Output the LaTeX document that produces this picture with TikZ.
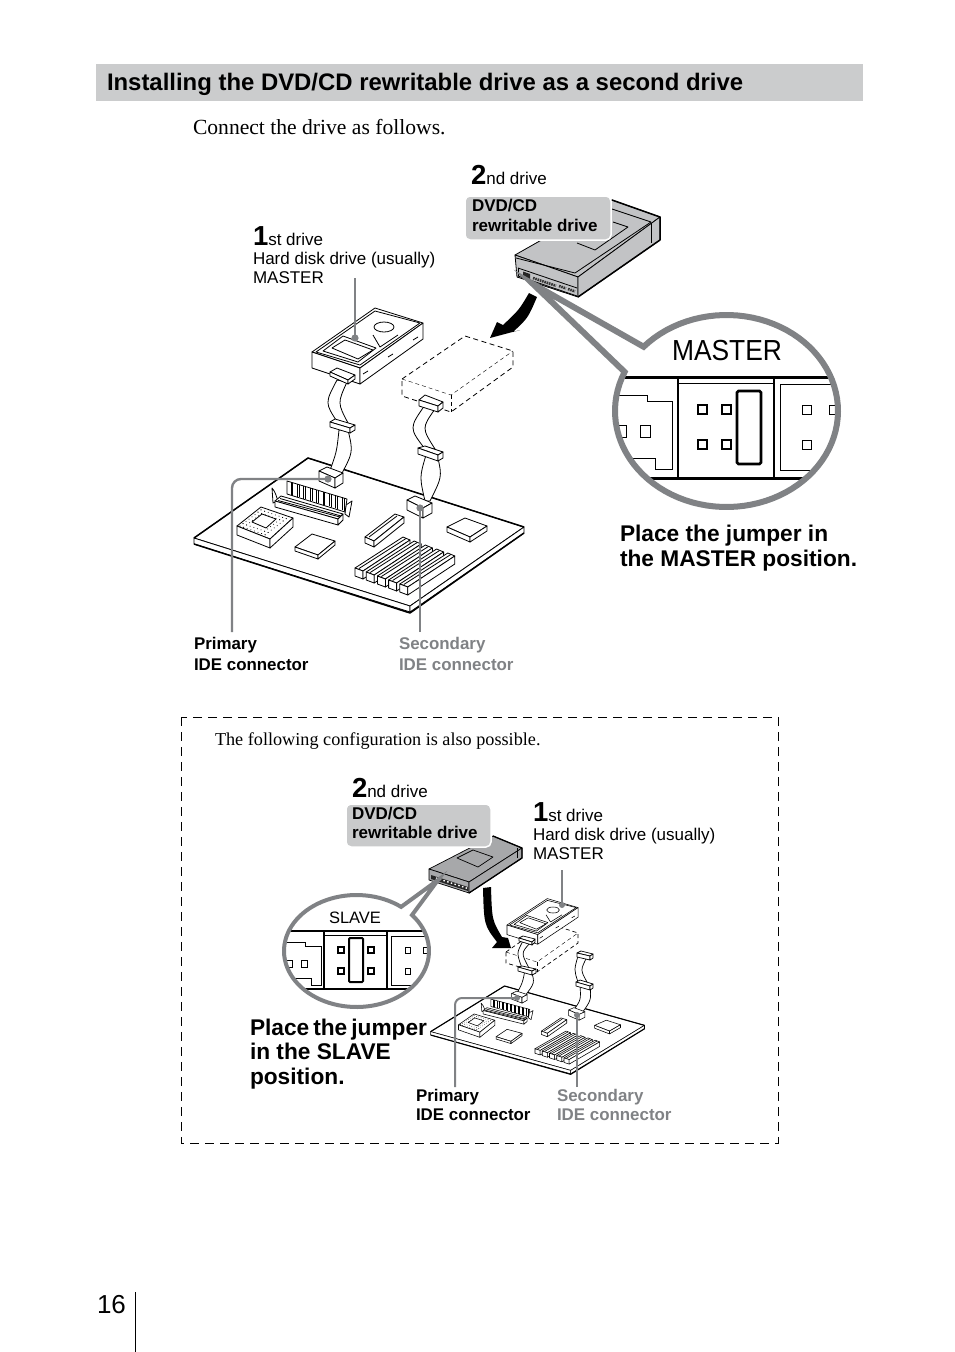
\documentclass[tikz,border=0pt]{standalone}
\usepackage{fontspec}
\setmainfont{Liberation Sans}
\newfontfamily\serifface{Liberation Serif}
\definecolor{lead}{HTML}{808285}
\definecolor{band}{HTML}{CBCCCD}
\definecolor{labelgray}{HTML}{C9CACB}
\definecolor{drivetop}{HTML}{C2C3C5}
\definecolor{drivelow}{HTML}{A7A8AA}
\newcommand\fs[1]{\fontsize{#1}{#1}\selectfont}
\newcommand\twol[3]{\vtop{\baselineskip=#1pt\lineskiplimit=-20pt\hbox{#2}\hbox{#3}}}
\newcommand\threel[4]{\vtop{\baselineskip=#1pt\lineskiplimit=-20pt\hbox{#2}\hbox{#3}\hbox{#4}}}
\newcommand\bignum[1]{{\fs{27.5}\bfseries #1}}
\def\lw{0.8pt}
\def\lwb{1.5pt}
\tikzset{
  x=1pt,y=-1pt,
  ln/.style={line width=\lw,line join=round,draw=black},
  hv/.style={line width=\lwb,line join=round,draw=black},
  txt/.style={anchor=base west,inner sep=0pt,outer sep=0pt},
  leader/.style={draw=lead,line width=2.4pt,rounded corners=9pt},
  dotend/.style={fill=lead,draw=none},
  dashline/.style={line width=\lw,draw=black,dash pattern=on 5pt off 3.5pt},
  dashthin/.style={line width=0.4pt,draw=black,dash pattern=on 4pt off 3pt},
  lens/.style={draw=lead,line join=miter,fill=none},
  labelbg/.style={fill=labelgray,draw=white,line width=1.5pt,rounded corners=5pt},
}
% top face A,B,C,D (left, back, right, front), then height
\def\prism(#1,#2)(#3,#4)(#5,#6)(#7,#8)#9{%
  \filldraw[ln,fill=white] (#1,#2)--(#3,#4)--(#5,#6)--(#7,#8)--cycle;
  \filldraw[ln,fill=white] (#1,#2)--(#7,#8)--(#7,{#8+#9})--(#1,{#2+#9})--cycle;
  \filldraw[ln,fill=white] (#7,#8)--(#5,#6)--(#5,{#6+#9})--(#7,{#8+#9})--cycle;
}
\newcommand\boarddraw{%
  \prism(194,538)(308,458)(524,527)(410,606){6}
  \draw[hv] (194,544)--(410,613)--(524,533);
  \draw[hv] (194,538)--(308,458)--(524,527);
  % socket
  \prism(237,526)(261,507)(293,518)(270,539){9}
  \draw[ln] (252,522)--(262,514)--(276,519)--(266,528)--cycle;
  \foreach \u in {0,...,7}{\foreach \v in {0,1,6,7}{
    \fill ({240+\u*3.0+\v*3.6},{526-\u*2.3+\v*1.25}) circle (0.5);
    \fill ({240+\v*3.0+\u*3.6},{526-\v*2.3+\u*1.25}) circle (0.5);
  }}
  % chips
  \prism(295,547)(312,534)(335,541)(318,555){4}
  \prism(447,527)(465,518)(487,526)(470,537){5}
  % RAM
  \draw[ln,fill=white] (272,488) .. controls (275,492) .. (278,501) -- (273,503) -- cycle;
  \draw[ln,fill=white] (352,501) -- (349,517) -- (345,514) -- (346,505) -- cycle;
  \filldraw[ln,fill=white] (287,481)--(347,499)--(345,512)--(287,494)--cycle;
  \foreach \i in {0,...,8}{
    \draw[ln] ({291+\i*6.4},{482.2+\i*1.9})--({291+\i*6.4},{495+\i*1.9});
    \draw[ln] ({292.8+\i*6.4},{482.7+\i*1.9})--({292.8+\i*6.4},{495.5+\i*1.9});
  }
  \prism(275,501)(281,496)(343,514)(338,519){6}
  \draw[ln] (278,500.5)--(340,517);
  \draw[ln] (280,498.5)--(341,516);
  % small slot
  \prism(365,537)(395,514)(404,517)(374,541){6}
  \draw[ln] (369,537)--(397,516);
  % five slots
  \foreach \i in {0,...,4}{
    \prism({355+11.2*\i},{568+4*\i})({403+11.2*\i},{537+4*\i})({410+11.2*\i},{540+4*\i})({363+11.2*\i},{571+4*\i}){8}
    \draw[ln] ({359+11.2*\i},{568.5+4*\i})--({406+11.2*\i},{538.5+4*\i});
  }
}
\newcommand\hddraw{%
  \prism(312,352)(375,308)(423,323)(360,368){16}
  \draw[ln] (316,352)--(375,311)--(420,323)--(360,365)--cycle;
  \draw[ln] (384,327) ellipse [x radius=10,y radius=5];
  \draw[ln] (323,351)--(343,336)--(376,348)--(358,362)--cycle;
  \draw[ln] (332,348)--(345,340)--(373,350)--(358,359)--cycle;
  \draw[ln] (373,335)--(380,347)--(398,335);
  \draw[ln] (363,374)--(368,371);
  \draw[ln] (388,357)--(393,354);
  \draw[ln] (413,340)--(418,337);
}
\begin{document}
\begin{tikzpicture}
\path[fill=white,use as bounding box] (0,0) rectangle (954,1352);
% title
\fill[band] (96,64) rectangle (863,101);
\node[txt,font=\fs{23.9}\bfseries] (title) at (107,90) {Installing the DVD/CD rewritable drive as a second drive};
\node[txt,font=\serifface\fs{21.6}] (intro) at (193,134) {Connect the drive as follows.};

%%%%%%%% TOP FIGURE
\boarddraw
% dashed bay
\draw[dashline] (402,379)--(465,336)--(513,351)--(513,367)--(451,412)--(402,396)--cycle;
\draw[dashthin] (402,379)--(451,395)--(513,351);
\draw[dashthin] (451,395)--(451,412);
% primary ribbon
\filldraw[ln,fill=white] (339,430) .. controls (336.7,452) .. (329,473) -- (341,475) .. controls (353.2,452) .. (348,430) -- cycle;
\prism(319,471)(327,467)(343,473)(335,478){10}
\filldraw[ln,fill=white] (337,380) .. controls (324.8,403) .. (338,423) -- (348,423) .. controls (337.5,403) .. (347,382) -- cycle;
\prism(330,422)(335,419)(355,425)(350,428){5}
\hddraw
\prism(330,372)(337,368)(355,375)(348,380){4}
% secondary ribbon
\filldraw[ln,fill=white] (426,455) .. controls (419.5,477) .. (425,501) -- (430,501) .. controls (442,477) .. (438,458) -- cycle;
\prism(407,500)(415,496)(432,503)(423,508){10}
\filldraw[ln,fill=white] (425,405) .. controls (409,428) .. (425,449) -- (435,449) .. controls (421.7,428) .. (435,409) -- cycle;
\prism(418,448)(425,446)(443,452)(438,455){6}
\prism(419,400)(425,395)(443,402)(438,406){6}
% DVD drive
\filldraw[ln,fill=drivetop] (515,255)--(612,200)--(660,217)--(578,277)--cycle;
\filldraw[ln,fill=drivetop] (515,255)--(578,277)--(578,297)--(517,277)--cycle;
\filldraw[ln,fill=drivetop] (578,277)--(660,217)--(660,240)--(578,297)--cycle;
\draw[hv] (612,200)--(660,217)--(660,240)--(578,297);
\draw[ln] (516,258)--(575,273)--(651,222)--(612,209);
\draw[ln] (651,223)--(651,243);
\draw[ln] (577,243)--(595,250)--(628,227)--(613,222);
\draw[ln] (518,268)--(577,288);
\draw[ln] (518,276)--(577,296);
\draw[ln] (518,268)--(518,276);
\fill[black!85] (523,271.5)--(530,274)--(530,279)--(523,276.5)--cycle;
\draw[black!80,line width=2.6pt,dash pattern=on 1.6pt off 0.8pt] (533,278)--(556,285.8);
\draw[black!80,line width=2.6pt,dash pattern=on 1.6pt off 0.8pt] (559,286)--(566,288.4);
\draw[black!80,line width=2.6pt,dash pattern=on 1.6pt off 0.8pt] (568,289)--(575,291.4);
% black arrow
\fill[black] (529,293) .. controls (519,310) .. (503,325) -- (497,322) -- (490,338) -- (520,330) -- (513,332)
  .. controls (528,318) .. (537,297) -- cycle;
% label
\draw[labelbg] (465,196) rectangle (611,240);
\node[txt,font=\fs{17}] (nd2) at (471,184) {\bignum{2}nd drive};
\node[txt,font=\fs{17}\bfseries] (dvd2) at (472,211) {\twol{20}{DVD/CD}{rewritable drive}};
\node[txt,font=\fs{17}] (st1) at (253,245) {\threel{19.2}{\bignum{1}st drive}{Hard disk drive (usually)}{MASTER}};
% lens MASTER
\path[fill=white] (533,284) -- plot[domain=-138:204,samples=90,variable=\t] ({726.5+111.5*cos(\t)},{411+96*sin(\t)}) -- cycle;
\begin{scope}
  \clip (726.5,411) ellipse [x radius=110,y radius=94];
  \draw[line width=3pt] (610,377)--(845,377);
  \draw[line width=3pt] (610,478)--(845,478);
  \draw[line width=1.4pt] (678,377)--(678,478);
  \draw[line width=1.4pt] (774,377)--(774,478);
  \draw[line width=1pt] (678,383)--(774,383);
  \draw[line width=1pt] (780,384)--(845,384);
  \draw[line width=1pt] (780,384)--(780,470)--(845,470);
  \draw[line width=0.9pt] (610,395)--(647,395)--(647,401)--(672,401)--(672,469)--(655,469)--(655,458)--(610,458);
  \draw[line width=0.9pt] (640,425) rectangle (650,437);
  \draw[line width=0.9pt] (616,425) rectangle (626,437);
  \draw[line width=0.9pt] (802,405) rectangle (811,414);
  \draw[line width=0.9pt] (802,440) rectangle (811,449);
  \draw[line width=0.9pt] (829,405) rectangle (838,414);
  \draw[line width=2.2pt] (698,405) rectangle (707,414);
  \draw[line width=2.2pt] (722,405) rectangle (731,414);
  \draw[line width=2.2pt] (698,440) rectangle (707,449);
  \draw[line width=2.2pt] (722,440) rectangle (731,449);
  \draw[line width=2.6pt,rounded corners=1.5pt] (737,391) rectangle (761,464);
\end{scope}
\draw[lens,line width=6pt] (533,284) -- plot[domain=-138:204,samples=90,variable=\t] ({726.5+111.5*cos(\t)},{411+96*sin(\t)}) -- cycle;
\node[inner sep=0pt,font=\fs{29},xscale=0.91] (master) at (727,351) {MASTER};
\node[txt,font=\fs{22.7}\bfseries] (place1) at (620,541) {\twol{25}{Place the jumper in}{the MASTER position.}};
\node[txt,font=\fs{16.9}\bfseries] (prim1) at (194,649) {\twol{21}{Primary}{IDE connector}};
\node[txt,font=\fs{16.9}\bfseries,text=lead] (sec1) at (399,649) {\twol{21}{Secondary}{IDE connector}};
% leaders top
\coordinate (d1) at (355,338);
\coordinate (d2) at (328,479);
\coordinate (d3) at (420,508);
\coordinate (s1) at (355,278);
\coordinate (s2) at (232,632);
\coordinate (s3) at (420,632);
\draw[leader] (s1) -- (d1);
\draw[leader] (s2) -- (232,479) -- (d2);
\draw[leader] (s3) -- (d3);
\foreach \c in {d1,d2,d3}{\fill[dotend] (\c) circle (3.6);}

%%%%%%%% DASHED FRAME
\draw[line width=0.9pt,dash pattern=on 9pt off 6pt] (181,717) rectangle (778,1143);
\node[txt,font=\serifface\fs{18.2}] (alt) at (215,745) {The following configuration is also possible.};

%%%%%%%% BOTTOM FIGURE
\begin{scope}[shift={({430-193*.648},{986-458*.57})},xscale=.648,yscale=.57]
  \def\lw{0.55pt}\def\lwb{1.1pt}
  \boarddraw
\end{scope}
\def\lw{0.7pt}
\def\lwb{1.3pt}
% dashed bay
\draw[dashline,dash pattern=on 4pt off 3pt] (506,952)--(547,923)--(578,933)--(578,943)--(537,972)--(506,963)--cycle;
\draw[dashthin] (506,952)--(537,962)--(578,933);
\draw[dashthin] (537,962)--(537,972);
% primary ribbon
\filldraw[ln,fill=white] (525,970) .. controls (522.5,983) .. (516,995) -- (524,997) .. controls (535,983) .. (531,970) -- cycle;
\filldraw[ln,fill=white] (523,941) .. controls (516.5,953) .. (522,968) -- (529,968) .. controls (521,953) .. (530,943) -- cycle;
\prism(518,967)(522,966)(536,969)(532,971){4}
\begin{scope}[shift={({507-312*.64},{925-352*.6})},xscale=.64,yscale=.6]
  \def\lw{0.55pt}\def\lwb{1.1pt}
  \hddraw
\end{scope}
\prism(519,938)(523,936)(535,939)(532,942){3}
% secondary ribbon
\filldraw[ln,fill=white] (580,985) .. controls (581,1000) .. (573,1011) -- (582,1013) .. controls (591.3,1000) .. (590,985) -- cycle;
\filldraw[ln,fill=white] (578,956) .. controls (574,970) .. (578,982) -- (587,982) .. controls (580.3,970) .. (587,957) -- cycle;
\prism(576,982)(580,980)(593,984)(590,986){4}
\prism(577,953)(581,951)(593,954)(590,956){4}
% board connectors over the ribbon ends
\begin{scope}[shift={({430-193*.648},{986-458*.57})},xscale=.648,yscale=.57]
  \def\lw{0.55pt}\def\lwb{1.1pt}
  \prism(319,471)(327,467)(343,473)(335,478){10}
  \prism(407,500)(415,496)(432,503)(423,508){10}
\end{scope}
% DVD drive
\filldraw[ln,fill=drivelow] (429,869)--(493,836)--(522,848)--(469,882)--cycle;
\filldraw[ln,fill=drivelow] (429,869)--(469,882)--(469,893)--(429,880)--cycle;
\filldraw[ln,fill=drivelow] (469,882)--(522,848)--(522,858)--(469,893)--cycle;
\draw[hv] (493,836)--(522,848)--(522,858)--(469,893);
\draw[ln] (517,848)--(517,858);
\draw[ln] (457,858)--(473,850)--(493,857)--(478,867)--cycle;
\fill[black!85] (431,875)--(468,887)--(468,891)--(431,879)--cycle;
\draw[white,line width=1.4pt,dash pattern=on 1.5pt off 2.4pt] (436,878)--(468,888.5);
% black arrow
\fill[black] (483,888) .. controls (484,925) .. (497,942) -- (492,948) -- (511,948) -- (508,938) -- (502,937)
  .. controls (492,920) .. (491,887) -- cycle;
% label
\draw[labelbg] (346,804) rectangle (491,847);
\node[txt,font=\fs{17}] (nd2b) at (352,797) {\bignum{2}nd drive};
\node[txt,font=\fs{17}\bfseries] (dvd2b) at (352,819) {\twol{19.2}{DVD/CD}{rewritable drive}};
\node[txt,font=\fs{17}] (st1b) at (533,821) {\threel{19.2}{\bignum{1}st drive}{Hard disk drive (usually)}{MASTER}};
% lens SLAVE
\path[fill=white] (438,880) -- plot[domain=-40:308,samples=90,variable=\t] ({356.5+72.5*cos(\t)},{951+56*sin(\t)}) -- cycle;
\begin{scope}
  \clip (356.5,951) ellipse [x radius=71,y radius=54.5];
  \draw[line width=2.2pt] (280,931)--(435,931);
  \draw[line width=2.2pt] (280,989)--(435,989);
  \draw[line width=1.1pt] (324,931)--(324,989);
  \draw[line width=1.1pt] (387,931)--(387,989);
  \draw[line width=0.8pt] (324,935)--(387,935);
  \draw[line width=0.8pt] (391,936)--(435,936);
  \draw[line width=0.8pt] (391,936)--(391,985)--(435,985);
  \draw[line width=0.7pt] (280,942)--(305,942)--(305,946)--(321,946)--(321,985)--(311,985)--(311,978)--(280,978);
  \draw[line width=0.7pt] (301,960) rectangle (307,967);
  \draw[line width=0.7pt] (286,960) rectangle (292,967);
  \draw[line width=0.7pt] (405,947) rectangle (410,953);
  \draw[line width=0.7pt] (405,968) rectangle (410,974);
  \draw[line width=0.7pt] (423,947) rectangle (428,953);
  \draw[line width=1.6pt] (338,947) rectangle (344,953);
  \draw[line width=1.6pt] (338,968) rectangle (344,974);
  \draw[line width=1.6pt] (368,947) rectangle (374,953);
  \draw[line width=1.6pt] (368,968) rectangle (374,974);
  \draw[line width=2pt,rounded corners=1pt] (349,938) rectangle (363,982);
\end{scope}
\draw[lens,line width=4pt] (438,880) -- plot[domain=-40:308,samples=90,variable=\t] ({356.5+72.5*cos(\t)},{951+56*sin(\t)}) -- cycle;
\node[inner sep=0pt,font=\fs{16.5}] (slave) at (355,918) {SLAVE};
\node[txt,font=\fs{22.7}\bfseries] (place2) at (250,1035) {\threel{24.6}{{\spaceskip=4pt Place the jumper}}{in the SLAVE}{position.}};
\node[txt,font=\fs{16.9}\bfseries] (prim2) at (416,1101) {\twol{19.2}{Primary}{IDE connector}};
\node[txt,font=\fs{16.9}\bfseries,text=lead] (sec2) at (557,1101) {\twol{19.2}{Secondary}{IDE connector}};
% leaders bottom
\coordinate (e1) at (562,905);
\coordinate (e2) at (517,998);
\coordinate (e3) at (577,1015);
\coordinate (f1) at (562,870);
\coordinate (f2) at (455,1087);
\coordinate (f3) at (577,1087);
\draw[leader,line width=2pt,rounded corners=7pt] (f1) -- (e1);
\draw[leader,line width=2pt,rounded corners=7pt] (f2) -- (455,998) -- (e2);
\draw[leader,line width=2pt,rounded corners=7pt] (f3) -- (e3);
\foreach \c in {e1,e2,e3}{\fill[dotend] (\c) circle (3);}

%%%%%%%% PAGE NUMBER
\node[txt,font=\fs{26}] (pageno) at (97,1313) {16};
\draw[line width=1pt] (135,1292) -- (135,1352);
\end{tikzpicture}
\end{document}
